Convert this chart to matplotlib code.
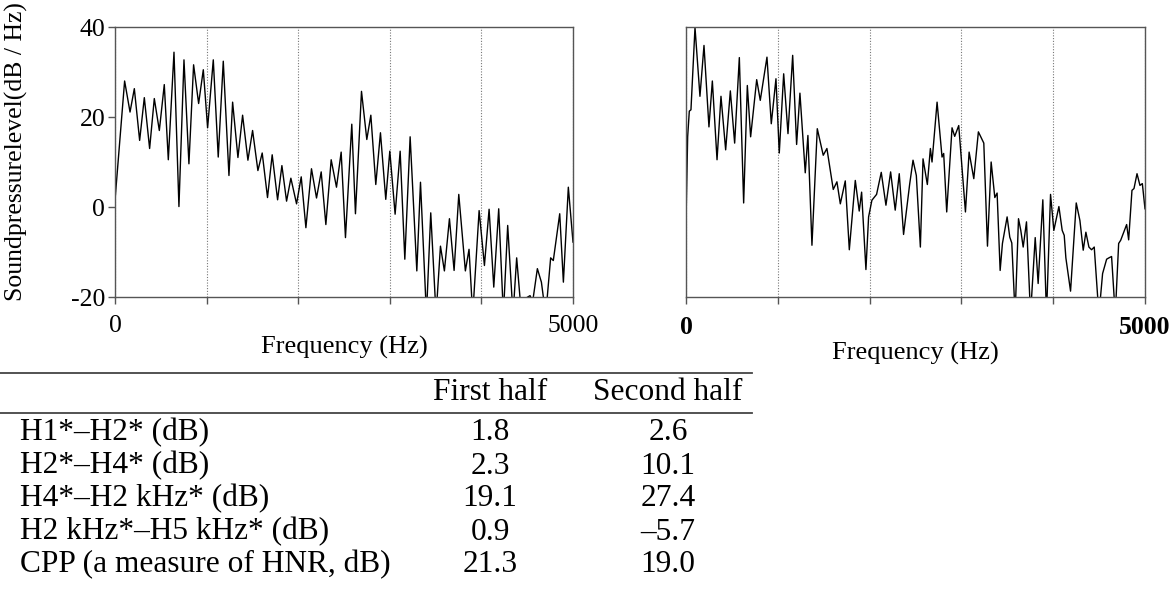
import matplotlib
matplotlib.use("Agg")
import matplotlib.pyplot as plt
from matplotlib.lines import Line2D

plt.rcParams['font.family'] = ['Liberation Serif', 'DejaVu Serif']

# ---- data: spectrum, first half (left panel) ----
freq_first = [0, 105, 164, 211, 269, 320, 378, 429, 484, 538, 582, 644, 698, 753, 807, 858, 913, 964,
              1011, 1073, 1127, 1182, 1244, 1284, 1342, 1393, 1451, 1502, 1560, 1607, 1665, 1716, 1775,
              1822, 1873, 1920, 1982, 2033, 2084, 2145, 2200, 2251, 2302, 2360, 2418, 2469, 2516, 2585,
              2625, 2691, 2749, 2793, 2847, 2898, 2956, 3000, 3058, 3113, 3164, 3222, 3295, 3335, 3400,
              3447, 3505, 3553, 3596, 3651, 3702, 3753, 3825, 3865, 3905, 3975, 4033, 4084, 4135, 4189,
              4240, 4287, 4345, 4385, 4425, 4531, 4560, 4611, 4655, 4702, 4756, 4785, 4855, 4895, 4949, 5000]
spl_first = [1.5, 28, 21.1, 26.3, 14.8, 24.3, 13, 24.1, 17, 27.2, 10.5, 34.4, 0.1, 32.7, 9.6, 31.6, 23, 30.5,
             17.6, 32.7, 11.1, 32.4, 7, 23.3, 11, 20.4, 10.4, 17, 8.1, 12, 2.1, 11.6, 1.6,
             9.2, 1.3, 6.4, 0.7, 6.7, -4.6, 8.5, 2, 7.8, -3.9, 10.5, 4.4, 12.2, -6.8, 18.4,
             -1.5, 25.7, 15, 20.4, 5, 16.5, 1.7, 12.4, -1.6, 12.4, -11.6, 15.6, -14.2, 5.5, -24,
             -1.3, -24, -8.7, -14.2, -2.6, -14.1, 2.8, -14.2, -9.4, -24, -0.8, -13, -0.5, -17.8, -0.4,
             -24, -4.1, -24, -11.3, -21, -19.7, -21, -13.7, -16.7, -24, -11.3, -11.9, -1.5, -16.7, 4.4, -7.8]

# ---- data: spectrum, second half (right panel) ----
freq_second = [0, 18, 36, 54, 98, 152, 196, 250, 287, 338, 381, 432, 483, 530, 581, 628, 668, 704, 770, 809,
               882, 929, 980, 1016, 1064, 1111, 1162, 1205, 1241, 1299, 1328, 1372, 1430, 1495, 1535, 1604,
               1644, 1681, 1735, 1779, 1844, 1887, 1913, 1960, 1989, 2025, 2076, 2127, 2178, 2229, 2279,
               2323, 2370, 2436, 2473, 2509, 2553, 2582, 2629, 2662, 2680, 2735, 2789, 2807, 2840, 2898,
               2927, 2971, 3044, 3084, 3135, 3185, 3244, 3284, 3324, 3364, 3389, 3422, 3447, 3498, 3527,
               3549, 3585, 3622, 3647, 3673, 3709, 3753, 3804, 3836, 3887, 3927, 3971, 4007, 4062, 4098,
               4120, 4138, 4189, 4251, 4291, 4327, 4356, 4389, 4418, 4447, 4498, 4538, 4582, 4607, 4636,
               4676, 4713, 4735, 4800, 4822, 4858, 4880, 4913, 4945, 4971, 5000]
spl_second = [-3.3, 15.6, 21.3, 21.6, 39.9, 24.6, 35.9, 17.8, 28, 10.5, 24.6, 12.7, 25.8, 14.2, 33.2, 0.9, 27,
              15.6, 28.3, 23.7, 33.3, 18.5, 28.5, 12, 29.6, 16.3, 33.7, 13.9, 25.3, 7.6, 15.9, -8.5, 17.4,
              11.5, 13, 3.9, 5.6, 0.7, 5.8, -9.5, 5.9, -0.9, 3.3, -13.9, -2.2, 1.5, 2.8, 7.7, 0.4, 7.8,
              -0.7, 7.4, -6.1, 5, 10.4, 7, -8.9, 10.7, 5, 13, 10, 23.3, 11.1, 11.9, -1.1, 17.6, 15.7, 18.1,
              -1.1, 12.2, 6.3, 16.7, 14.2, -8.7, 10, 2.1, 3.1, -14.1, -8.1, -2.2, -6.7, -8, -24, -2.6,
              -5.2, -8.9, -3.3, -24, -6.8, -17, 1.6, -24, 2.8, -5.2, 0.1, -5.2, -6.3, -11.3, -18.7, 0.9,
              -3, -9.6, -5.6, -8.9, -9.5, -8.9, -24, -14.8, -11.6, -11.3, -11, -24, -8.1, -7.4, -3.9, -7.3,
              3.7, 4.1, 7.4, 4.8, 5.2, -0.4]

x_ticks = [0, 1000, 2000, 3000, 4000, 5000]
x_ticklabels = ['0', '', '', '', '', '5000']
y_ticks = [40, 20, 0, -20]
y_ticklabels = ['40', '20', '0', '-20']

# ---- data: table ----
col_headers = ['First half', 'Second half']
row_labels = ['H1*–H2* (dB)', 'H2*–H4* (dB)', 'H4*–H2 kHz* (dB)',
              'H2 kHz*–H5 kHz* (dB)', 'CPP (a measure of HNR, dB)']
first_half = ['1.8', '2.3', '19.1', '0.9', '21.3']
second_half = ['2.6', '10.1', '27.4', '–5.7', '19.0']

W, H = 1173, 601
fig = plt.figure(figsize=(W / 100, H / 100), dpi=100)

def px(x0, y0, x1, y1):
    return [x0 / W, 1 - y1 / H, (x1 - x0) / W, (y1 - y0) / H]

ax1 = fig.add_axes(px(115, 27, 573, 297))
ax2 = fig.add_axes(px(686, 27, 1145, 297))

spine_col = '#555555'
for ax, fx, fy, bold, lab_y in [(ax1, freq_first, spl_first, False, 347),
                                (ax2, freq_second, spl_second, True, 353)]:
    ax.plot(fx, fy, color='black', lw=1.0, solid_joinstyle='round')
    ax.set_xlim(0, 5000)
    ax.set_ylim(-20, 40)
    ax.set_xticks(x_ticks)
    ax.set_xticklabels(x_ticklabels, fontsize=18.5, fontweight='bold' if bold else 'normal')
    ax.grid(axis='x', linestyle=(0, (1, 1.5)), color='#777777', lw=0.8)
    for s in ax.spines.values():
        s.set_color(spine_col)
        s.set_linewidth(1.0)
    ax.tick_params(axis='x', direction='out', length=5, width=1, color=spine_col,
                   pad=9 if bold else 8)
    ax.set_xlabel('Frequency (Hz)', fontsize=19, va='center')
    ax.xaxis.set_label_coords(0.5, -(lab_y - 297) / 270)

ax1.set_yticks(y_ticks)
ax1.set_yticklabels(y_ticklabels, fontsize=18.5)
ax1.tick_params(axis='y', direction='out', length=5, width=1, color=spine_col, pad=2)
ax1.set_ylabel('Soundpressurelevel(dB / Hz)', fontsize=18.5, va='center', ha='center')
ax1.yaxis.set_label_coords((16 - 115) / 458, (297 - 152) / 270)
ax2.set_yticks([])

# ---- table ----
fig.add_artist(Line2D([0, 752 / W], [1 - 373 / H] * 2, color='#444444', lw=1.3, transform=fig.transFigure))
fig.add_artist(Line2D([0, 752 / W], [1 - 413 / H] * 2, color='#444444', lw=1.3, transform=fig.transFigure))
col_x = [490, 668]
tfs = 22.6
for h, cx in zip(col_headers, col_x):
    fig.text(cx / W, 1 - 393 / H, h, ha='center', va='center', fontsize=tfs)
row_y = [433, 466, 499, 532, 565]
for lab, a, b, ry in zip(row_labels, first_half, second_half, row_y):
    fig.text(20 / W, 1 - ry / H, lab, ha='left', va='center', fontsize=tfs)
    fig.text(col_x[0] / W, 1 - ry / H, a, ha='center', va='center', fontsize=tfs)
    fig.text(col_x[1] / W, 1 - ry / H, b, ha='center', va='center', fontsize=tfs)

fig.savefig('out.png', dpi=100)
